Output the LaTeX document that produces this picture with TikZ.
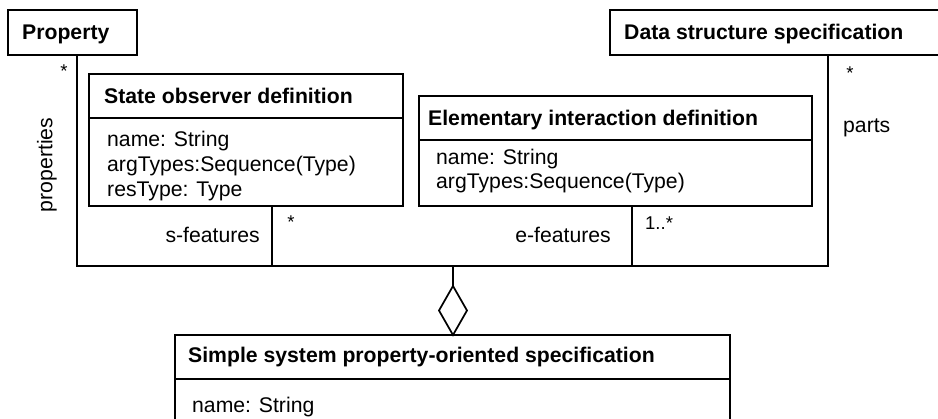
\documentclass[tikz,border=0pt]{standalone}
\usepackage{fontspec}
\setmainfont{Liberation Sans}
\usetikzlibrary{shapes.geometric}
\begin{document}
\begin{tikzpicture}[x=1pt,y=-1pt,
  box/.style={draw, line width=1.7pt, anchor=north west, inner sep=0pt, outer sep=0pt},
  sepline/.style={line width=1.7pt},
  conn/.style={line width=1.7pt},
  ttl/.style={font=\fontsize{21.2}{24}\selectfont\bfseries, anchor=base west, inner sep=0pt},
  attr/.style={font=\fontsize{21.2}{24}\selectfont, anchor=base west, inner sep=0pt},
  lbl/.style={font=\fontsize{21.2}{24}\selectfont, inner sep=0pt},
  mult/.style={font=\fontsize{18.5}{20}\selectfont, inner sep=0pt},
]
\useasboundingbox (0,0) rectangle (938,419);
\clip (0,0) rectangle (938,419);
% classes
\node[box, minimum width=129pt, minimum height=45pt] (prop) at (8,10) {};
\node[ttl] (propT) at (22,39.5) {Property};
\node[box, minimum width=340pt, minimum height=45pt] (ds) at (610,10) {};
\node[ttl] (dsT) at (624,39.5) {Data structure specification};

\node[box, minimum width=314pt, minimum height=132pt] (sod) at (89,74) {};
\draw[sepline] (89,118) -- (403,118);
\node[ttl] (sodT) at (104,103.5) {State observer definition};
\node[attr] (sodA1) at (107,147) {name: String};
\node[attr] (sodA2) at (107,172) {argTypes:Sequence(Type)};
\node[attr] (sodA3) at (107,196.5) {resType: Type};

\node[box, minimum width=393pt, minimum height=110pt] (eid) at (419,96) {};
\draw[sepline] (419,140) -- (812,140);
\node[ttl] (eidT) at (428,125.5) {Elementary interaction definition};
\node[attr] (eidA1) at (436,165) {name: String};
\node[attr] (eidA2) at (436,189) {argTypes:Sequence(Type)};

\node[box, minimum width=555pt, minimum height=120pt] (sps) at (175,335) {};
\draw[sepline] (175,379) -- (730,379);
\node[ttl] (spsT) at (188,363) {Simple system property-oriented specification};
\node[attr] (spsA1) at (192,413) {name: String};

% connectors
\coordinate (bl) at (77,266);
\coordinate (br) at (828,266);
\coordinate (sf) at (272,266);
\coordinate (ef) at (632,266);
\coordinate (ag) at (453,266);
\draw[conn] (prop.south -| bl) -- (bl) -- (br) -- (ds.south -| br);
\draw[conn] (sod.south -| sf) -- (sf);
\draw[conn] (eid.south -| ef) -- (ef);
\node[draw, diamond, line width=1.7pt, minimum width=28pt, minimum height=49pt, inner sep=0pt, outer sep=0pt, anchor=south] (dia) at (sps.north -| ag) {};
\draw[conn] (ag) -- (dia.north);

% labels
\node[mult] (m1) at (64,71) {*};
\node[lbl, rotate=90] (lp) at (47,165) {properties};
\node[mult] (m2) at (850,73) {*};
\node[lbl, anchor=base west] (lparts) at (843,133) {parts};
\node[lbl, anchor=base east] (lsf) at (260,243) {s-features};
\node[mult] (m3) at (291,222) {*};
\node[lbl, anchor=base east] (lef) at (611,243) {e-features};
\node[mult, anchor=base west] (m4) at (645,230) {1..*};
\end{tikzpicture}
\end{document}
